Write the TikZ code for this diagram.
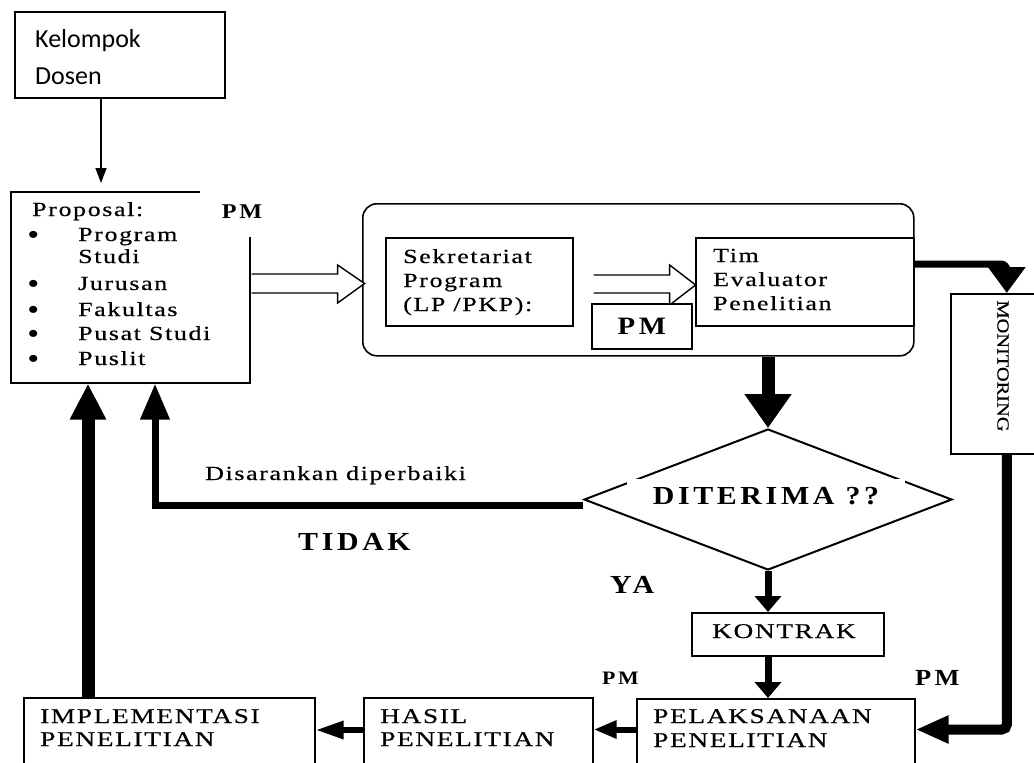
\documentclass[tikz,border=0pt]{standalone}
\usepackage{fontspec}
\usetikzlibrary{arrows.meta,calc,shapes.geometric}
\newfontfamily\fser[FakeStretch=1.3,LetterSpace=8,FakeBold=0.5]{Liberation Serif}
\newfontfamily\fserb[FakeStretch=1.15,LetterSpace=14]{Liberation Serif}
\newfontfamily\fmon[FakeStretch=1.2,LetterSpace=0,FakeBold=0.5]{Liberation Serif}
\newfontfamily\fcal{Carlito}
\newcommand\setfs[1]{\fontsize{#1}{#1}\selectfont}
\tikzset{
  box/.style={draw, line width=1.6pt, fill=white, inner sep=0pt, anchor=north west},
  txt/.style={anchor=base west, inner sep=0pt},
  serif/.style={font=\fser\setfs{#1}},
  bold/.style={font=\fserb\bfseries\setfs{#1}},
  thinarrow/.style={line width=1.5pt, -{Triangle[width=11pt,length=15pt]}},
  hollow/.style={draw, line width=1.4pt, fill=white, line join=miter},
}
\begin{document}
\begin{tikzpicture}[x=1pt,y=-1pt]
\useasboundingbox (0,0) rectangle (1034,763);
\clip (0,0) rectangle (1034,763);
\fill[white] (0,0) rectangle (1034,763);

% ---------- boxes ----------
\node[box, minimum width=210pt, minimum height=86pt] (kel) at (14,11) {};
\node[box, minimum width=239pt, minimum height=191pt] (prop) at (10,191) {};
\node[box, draw, rounded corners=14pt, minimum width=551pt, minimum height=152pt] (rr) at (362,203) {};
\node[box, minimum width=187pt, minimum height=88pt] (sek) at (385,237) {};
\node[box, minimum width=218pt, minimum height=88pt] (tim) at (695,237) {};
\node[box, minimum width=112pt, minimum height=160pt] (mon) at (950,293) {};
\node[box, minimum width=192pt, minimum height=43pt] (kon) at (691,612) {};
\node[box, minimum width=278pt, minimum height=95pt] (pel) at (636,698) {};
\node[box, minimum width=229pt, minimum height=95pt] (has) at (363,697) {};
\node[box, minimum width=291pt, minimum height=95pt] (imp) at (23,697) {};
\node[draw, diamond, line width=2pt, inner sep=0pt, minimum width=368pt, minimum height=141pt] (dia) at (768,499.5) {};

% ---------- texts ----------
\node[txt, font=\fcal\setfs{26}] (kel1) at (35,47) {Kelompok};
\node[txt, font=\fcal\setfs{26}] (kel2) at (35,84) {Dosen};

\node[txt, serif=20] (pr0) at (32,216) {Proposal:};
\node[txt, font=\fserb\bfseries\setfs{26}] (b1) at (28,243) {•};
\node[txt, font=\fserb\bfseries\setfs{26}] (b2) at (28,292) {•};
\node[txt, font=\fserb\bfseries\setfs{26}] (b3) at (28,318) {•};
\node[txt, font=\fserb\bfseries\setfs{26}] (b4) at (28,342) {•};
\node[txt, font=\fserb\bfseries\setfs{26}] (b5) at (28,367) {•};
\node[txt, serif=20] (pr1) at (78,241) {Program};
\node[txt, serif=20] (pr1b) at (78,263) {Studi};
\node[txt, serif=20] (pr2) at (78,290) {Jurusan};
\node[txt, serif=20] (pr3) at (78,316) {Fakultas};
\node[txt, serif=20] (pr4) at (78,340) {Pusat Studi};
\node[txt, serif=20] (pr5) at (78,365) {Puslit};

\node[txt, serif=20] (sk1) at (403,263) {Sekretariat};
\node[txt, serif=20] (sk2) at (403,287) {Program};
\node[txt, serif=20] (sk3) at (403,311) {(LP /PKP):};

\node[txt, serif=20] (tm1) at (713,262) {Tim};
\node[txt, serif=20] (tm2) at (713,286) {Evaluator};
\node[txt, serif=20] (tm3) at (713,310) {Penelitian};

\node[txt, font=\fmon\setfs{17}, rotate=-90, anchor=center] (mont) at (1003,366) {MONITORING};

\node[txt, serif=21] (ko) at (712,638) {KONTRAK};
\node[txt, serif=21] (pl1) at (653,723) {PELAKSANAAN};
\node[txt, serif=21] (pl2) at (653,747) {PENELITIAN};
\node[txt, serif=21] (hs1) at (380,723) {HASIL};
\node[txt, serif=21] (hs2) at (380,746) {PENELITIAN};
\node[txt, serif=21] (im1) at (40,723) {IMPLEMENTASI};
\node[txt, serif=21] (im2) at (40,746) {PENELITIAN};

\node[txt, serif=20] (dis) at (205,480) {Disarankan diperbaiki};
\node[txt, bold=26] (tid) at (298,550) {TIDAK};
\node[txt, bold=26] (ya) at (610,593) {YA};
\node[txt, bold=19] (pm3) at (602,684) {PM};
\node[txt, bold=23] (pm4) at (915,685) {PM};

% ---------- connectors ----------
\draw[thinarrow, shorten >=8pt] ($(kel.south west)+(87,0)$) -- ($(prop.north west)+(91,0)$);

% hollow arrow proposal -> program box
\draw[hollow] ($(prop.north east)+(1,83)$) -- ++(86,0) -- ++(0,-9) -- ++(27,18.5) -- ++(-27,19.5) -- ++(0,-10) -- ++(-86,0);
% hollow arrow sekretariat -> tim
\draw[hollow] ($(sek.north east)+(20,38)$) -- ++(76,0) -- ++(0,-10) -- ++(26,20) -- ++(-26,20) -- ++(0,-12) -- ++(-76,0);

% PM box inside (drawn over the arrow)
\node[box, minimum width=100pt, minimum height=45pt] (pmb) at (591,303) {};
\node[bold=25, inner sep=0pt] (pm2) at (pmb.center) {PM};

% PM label on proposal corner
\node[fill=white, inner sep=0pt, minimum width=84pt, minimum height=50pt, bold=21] (pm1) at (242,212) {PM};

% program box -> diamond
\draw[line width=13pt, -{Triangle[width=45pt,length=34pt]}] (dia.north |- rr.south) -- (dia.north);

% diamond label with white background
\node[fill=white, inner sep=0pt, minimum width=278pt, minimum height=35pt, bold=26] (dit) at (766,496) {DITERIMA ??};

% diamond -> kontrak -> pelaksanaan
\draw[line width=7pt, -{Triangle[width=26pt,length=16pt]}] (dia.south) -- (dia.south |- kon.north);
\draw[line width=7pt, -{Triangle[width=26pt,length=16pt]}] (dia.south |- kon.south) -- (dia.south |- pel.north);

% pelaksanaan -> hasil -> implementasi
\coordinate (p1) at ($(pel.north west)+(0,31.5)$);
\draw[line width=6pt, -{Triangle[width=17pt,length=23pt]}] (p1) -- (p1 -| has.east);
\coordinate (h1) at ($(has.north west)+(0,33)$);
\draw[line width=6pt, -{Triangle[width=17pt,length=28pt]}] (h1) -- (h1 -| imp.east);

% implementasi -> proposal
\coordinate (i1) at ($(imp.north west)+(65,0)$);
\draw[line width=13pt, -{Triangle[width=34pt,length=36pt]}] (i1) -- (i1 |- prop.south);

% diamond (tidak) -> proposal
\coordinate (d1) at ($(dia.west)+(0,6)$);
\coordinate (p2) at ($(prop.south west)+(145,0)$);
\draw[line width=7pt, -{Triangle[width=28pt,length=36pt]}] (d1) -| (p2);

% tim -> monitoring
\coordinate (t1) at ($(tim.north east)+(0,27)$);
\draw[line width=7pt, rounded corners=6pt, -{Triangle[width=36pt,length=26pt]}] (t1) -| (mon.north);

% monitoring -> pelaksanaan
\coordinate (pe) at ($(pel.north east)+(0,31.5)$);
\draw[line width=10pt, rounded corners=5pt, -{Triangle[width=26pt,length=33pt]}] (mon.south) |- (pe);
\end{tikzpicture}
\end{document}
